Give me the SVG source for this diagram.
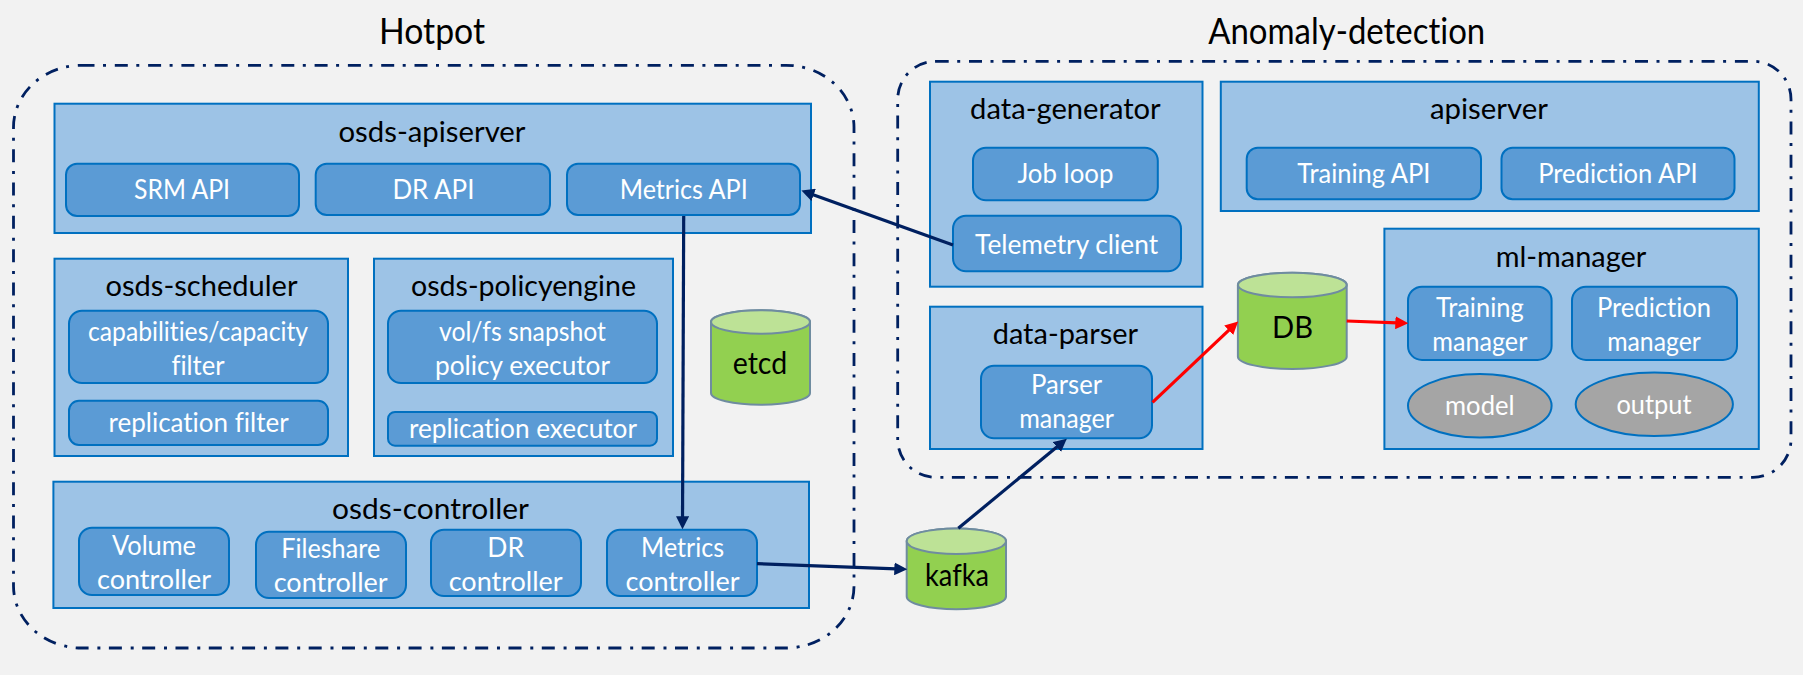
<svg xmlns="http://www.w3.org/2000/svg" width="1803" height="675" viewBox="0 0 1803 675">
<style>
text{font-family:"Lato","Open Sans","Liberation Sans",sans-serif;text-anchor:middle;fill:#000;font-variant-ligatures:none}
.title{font-size:36px}
.lbl{font-size:28.5px}
.w{font-size:27px;fill:#fff}
.c{font-size:30px}
.group{fill:none;stroke:#002060;stroke-width:2.8;stroke-dasharray:13 8.5 3 8.8}
.box{fill:#9DC3E6;stroke:#0070C0;stroke-width:2}
.in{fill:#5B9BD5;stroke:#0070C0;stroke-width:2}
.oval{fill:#A5A5A5;stroke:#0070C0;stroke-width:2}
.cyl{fill:#92D050;stroke:#6F8CA0;stroke-width:2}
.top{fill:#BDE296;stroke:#6F8CA0;stroke-width:2}
.navy{stroke:#002060;stroke-width:3.2;fill:none;marker-end:url(#an)}
.red{stroke:#FF0000;stroke-width:3.2;fill:none;marker-end:url(#ar)}
</style>
<defs>
<marker id="an" markerUnits="userSpaceOnUse" markerWidth="13" markerHeight="13" viewBox="0 0 12 12" refX="8" refY="6" orient="auto"><path d="M0 0L12 6L0 12Z" fill="#002060"/></marker>
<marker id="ar" markerUnits="userSpaceOnUse" markerWidth="13" markerHeight="13" viewBox="0 0 12 12" refX="8" refY="6" orient="auto"><path d="M0 0L12 6L0 12Z" fill="#FF0000"/></marker>
</defs>
<rect width="1803" height="675" fill="#F2F2F2"/>

<g id="hotpot">
<rect class="group" x="13.5" y="65.3" width="840.5" height="582.7" rx="68" ry="62"/>
<text class="title" x="432" y="44" textLength="106" lengthAdjust="spacingAndGlyphs">Hotpot</text>
</g>
<g id="anomaly-detection">
<rect class="group" x="897.7" y="61.3" width="893.3" height="416" rx="38" ry="38"/>
<text class="title" x="1346.7" y="44" textLength="277" lengthAdjust="spacingAndGlyphs">Anomaly-detection</text>
</g>

<g id="osds-apiserver">
<rect class="box" x="54.5" y="103.7" width="756.5" height="129.3"/>
<text class="lbl" x="432" y="141.7" textLength="187" lengthAdjust="spacingAndGlyphs">osds-apiserver</text>
</g>
<g id="srm-api">
<rect class="in" x="66" y="163.7" width="233" height="52.3" rx="11"/>
<text class="w" x="182" y="199.3" textLength="96" lengthAdjust="spacingAndGlyphs">SRM API</text>
</g>
<g id="dr-api">
<rect class="in" x="315.7" y="163.7" width="234.3" height="51.3" rx="11"/>
<text class="w" x="433.4" y="199.3" textLength="82" lengthAdjust="spacingAndGlyphs">DR API</text>
</g>
<g id="metrics-api">
<rect class="in" x="567" y="163.7" width="233" height="51.3" rx="11"/>
<text class="w" x="683.7" y="199.3" textLength="128" lengthAdjust="spacingAndGlyphs">Metrics API</text>
</g>

<g id="osds-scheduler">
<rect class="box" x="54.5" y="258.7" width="293.5" height="197.3"/>
<text class="lbl" x="201.5" y="296" textLength="192" lengthAdjust="spacingAndGlyphs">osds-scheduler</text>
</g>
<g id="capabilities-filter">
<rect class="in" x="69" y="310.7" width="259" height="72.3" rx="13"/>
<text class="w" x="198" y="340.7" textLength="220" lengthAdjust="spacingAndGlyphs">capabilities/capacity</text>
<text class="w" x="198" y="375" textLength="53" lengthAdjust="spacingAndGlyphs">filter</text>
</g>
<g id="replication-filter">
<rect class="in" x="69" y="400.7" width="259" height="44.3" rx="10"/>
<text class="w" x="198.6" y="432.3" textLength="180" lengthAdjust="spacingAndGlyphs">replication filter</text>
</g>

<g id="osds-policyengine">
<rect class="box" x="374" y="258.7" width="299" height="197.3"/>
<text class="lbl" x="523.5" y="296" textLength="225" lengthAdjust="spacingAndGlyphs">osds-policyengine</text>
</g>
<g id="snapshot-executor">
<rect class="in" x="388" y="310.7" width="269" height="72.3" rx="13"/>
<text class="w" x="522.5" y="340.7" textLength="167" lengthAdjust="spacingAndGlyphs">vol/fs snapshot</text>
<text class="w" x="522.5" y="375" textLength="175" lengthAdjust="spacingAndGlyphs">policy executor</text>
</g>
<g id="replication-executor">
<rect class="in" x="388" y="412" width="269" height="33.7" rx="7"/>
<text class="w" x="523" y="438.3" textLength="228" lengthAdjust="spacingAndGlyphs">replication executor</text>
</g>

<g id="etcd">
<path class="cyl" d="M711 322A49.5 11.7 0 0 1 810 322V393A49.5 11.7 0 0 1 711 393Z"/>
<ellipse class="top" cx="760.5" cy="322" rx="49.5" ry="11.7"/>
<text class="c" x="760" y="374.3" textLength="54.5" lengthAdjust="spacingAndGlyphs">etcd</text>
</g>

<g id="osds-controller">
<rect class="box" x="53.4" y="481.7" width="755.6" height="126.3"/>
<text class="lbl" x="430.5" y="519" textLength="197" lengthAdjust="spacingAndGlyphs">osds-controller</text>
</g>
<g id="volume-controller">
<rect class="in" x="79" y="527.7" width="150" height="67.3" rx="13"/>
<text class="w" x="154" y="554.7" textLength="84" lengthAdjust="spacingAndGlyphs">Volume</text>
<text class="w" x="154" y="588.7" textLength="114" lengthAdjust="spacingAndGlyphs">controller</text>
</g>
<g id="fileshare-controller">
<rect class="in" x="256" y="531.7" width="150" height="66.3" rx="13"/>
<text class="w" x="330.7" y="557.7" textLength="99" lengthAdjust="spacingAndGlyphs">Fileshare</text>
<text class="w" x="330.7" y="591.7" textLength="114" lengthAdjust="spacingAndGlyphs">controller</text>
</g>
<g id="dr-controller">
<rect class="in" x="431" y="529.7" width="150" height="66.3" rx="13"/>
<text class="w" x="505.7" y="556.7" textLength="36.7" lengthAdjust="spacingAndGlyphs">DR</text>
<text class="w" x="505.7" y="591" textLength="114" lengthAdjust="spacingAndGlyphs">controller</text>
</g>
<g id="metrics-controller">
<rect class="in" x="607" y="529.7" width="150" height="66.3" rx="13"/>
<text class="w" x="682.5" y="556.7" textLength="83" lengthAdjust="spacingAndGlyphs">Metrics</text>
<text class="w" x="682.5" y="591" textLength="114" lengthAdjust="spacingAndGlyphs">controller</text>
</g>

<g id="data-generator">
<rect class="box" x="930" y="81.7" width="272.5" height="205"/>
<text class="lbl" x="1065.4" y="119.3" textLength="190.7" lengthAdjust="spacingAndGlyphs">data-generator</text>
</g>
<g id="job-loop">
<rect class="in" x="973" y="147.7" width="184.8" height="52.6" rx="13"/>
<text class="w" x="1065.4" y="183.3" textLength="96" lengthAdjust="spacingAndGlyphs">Job loop</text>
</g>
<g id="telemetry-client">
<rect class="in" x="953" y="215.7" width="228" height="55.6" rx="13"/>
<text class="w" x="1066.6" y="254.3" textLength="183" lengthAdjust="spacingAndGlyphs">Telemetry client</text>
</g>

<g id="apiserver">
<rect class="box" x="1220.8" y="81.7" width="538" height="129.3"/>
<text class="lbl" x="1489" y="119.3" textLength="118" lengthAdjust="spacingAndGlyphs">apiserver</text>
</g>
<g id="training-api">
<rect class="in" x="1246.7" y="147.7" width="234.3" height="51.6" rx="11"/>
<text class="w" x="1363.8" y="183" textLength="133" lengthAdjust="spacingAndGlyphs">Training API</text>
</g>
<g id="prediction-api">
<rect class="in" x="1501.5" y="147.7" width="233" height="51.6" rx="11"/>
<text class="w" x="1618" y="183" textLength="159.5" lengthAdjust="spacingAndGlyphs">Prediction API</text>
</g>

<g id="ml-manager">
<rect class="box" x="1384.4" y="228.7" width="374.4" height="220.3"/>
<text class="lbl" x="1571" y="266.7" textLength="150.7" lengthAdjust="spacingAndGlyphs">ml-manager</text>
</g>
<g id="training-manager">
<rect class="in" x="1408" y="286.7" width="143.6" height="73.3" rx="14"/>
<text class="w" x="1479.8" y="317.3" textLength="87.7" lengthAdjust="spacingAndGlyphs">Training</text>
<text class="w" x="1479.8" y="351" textLength="95" lengthAdjust="spacingAndGlyphs">manager</text>
</g>
<g id="prediction-manager">
<rect class="in" x="1572" y="286.7" width="165" height="73.3" rx="14"/>
<text class="w" x="1654" y="317.3" textLength="114" lengthAdjust="spacingAndGlyphs">Prediction</text>
<text class="w" x="1654" y="351" textLength="93.6" lengthAdjust="spacingAndGlyphs">manager</text>
</g>
<g id="model">
<ellipse class="oval" cx="1479.8" cy="405.8" rx="71.8" ry="31.8"/>
<text class="w" x="1479.8" y="415.3" textLength="69.5" lengthAdjust="spacingAndGlyphs">model</text>
</g>
<g id="output">
<ellipse class="oval" cx="1654.3" cy="404.3" rx="78.6" ry="31.7"/>
<text class="w" x="1654" y="414" textLength="75" lengthAdjust="spacingAndGlyphs">output</text>
</g>

<g id="data-parser">
<rect class="box" x="930" y="306.7" width="272.5" height="142.3"/>
<text class="lbl" x="1065.4" y="344.3" textLength="145.4" lengthAdjust="spacingAndGlyphs">data-parser</text>
</g>
<g id="parser-manager">
<rect class="in" x="981" y="365.7" width="171" height="72.6" rx="13"/>
<text class="w" x="1066.6" y="394.3" textLength="71" lengthAdjust="spacingAndGlyphs">Parser</text>
<text class="w" x="1066.6" y="428.3" textLength="94.8" lengthAdjust="spacingAndGlyphs">manager</text>
</g>

<g id="db">
<path class="cyl" d="M1237.9 285A54.4 12.3 0 0 1 1346.7 285V356.7A54.4 12.3 0 0 1 1237.9 356.7Z"/>
<ellipse class="top" cx="1292.3" cy="285" rx="54.4" ry="12.3"/>
<text class="c" x="1292.6" y="338" textLength="41" lengthAdjust="spacingAndGlyphs">DB</text>
</g>
<g id="kafka">
<path class="cyl" d="M906.7 541.2A49.65 12.8 0 0 1 1006 541.2V596.5A49.65 12.8 0 0 1 906.7 596.5Z"/>
<ellipse class="top" cx="956.35" cy="541.2" rx="49.65" ry="12.8"/>
<text class="c" x="957" y="586" textLength="64" lengthAdjust="spacingAndGlyphs">kafka</text>
</g>

<g id="connectors">
<path class="navy" d="M953 245L805.5 192"/>
<path class="navy" d="M683.7 216L682.5 525"/>
<path class="navy" d="M757 563.7L903 569.2"/>
<path class="navy" d="M958.3 528.3L1063.5 441.5"/>
<path class="red" d="M1152.5 402.3L1235 324.4"/>
<path class="red" d="M1346.7 321L1404 323.2"/>
</g>
</svg>
